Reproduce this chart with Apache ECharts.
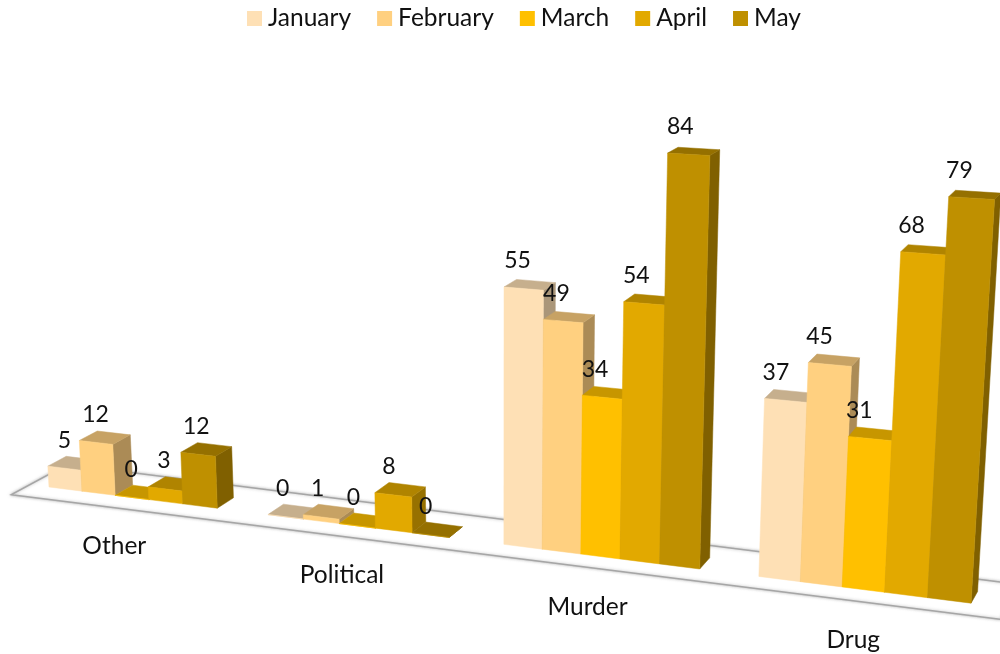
<!DOCTYPE html>
<html>
<head>
<meta charset="utf-8">
<style>html,body{margin:0;padding:0;background:#fff}#chart{width:1000px;height:654px}</style>
<script src="https://cdn.jsdelivr.net/npm/echarts@6/dist/echarts.min.js"></script>
</head>
<body>
<div id="chart"></div>
<script>
var categories = ['Other', 'Political', 'Murder', 'Drug'];
var months = ['January', 'February', 'March', 'April', 'May'];
var january = [5, 0, 55, 37];
var february = [12, 1, 49, 45];
var march = [0, 0, 34, 31];
var april = [3, 8, 54, 68];
var may = [12, 0, 84, 79];
var colors = ['#FEE0B5', '#FFD080', '#FFC000', '#E2A900', '#BF9000'];

var fontName = 'Lato';
var textColor = '#111';

// flat grid the axes work in, warped afterwards into the tilted 3d view
var gridLeft = 0, gridWidth = 880, gridTop = 120, gridHeight = 480, yMax = 100;
var band = gridWidth / categories.length;
var flatScale = gridHeight / yMax;
var barStep = 0.155;

// vanishing points and depth of a bar
var depthPoint = [1480, -300], depthStep = 0.0128;
var liftPoint = [500, 8700];

function project(px, py, depth) {
	var t = (px - gridLeft) / band;
	var bx = (49 + 209.3 * t) / (1 - 0.036 * t);
	var by = 487 + 0.126 * (bx - 49);
	var flat = gridTop + gridHeight - py;
	var h = flat * (4.12 + 0.000753 * bx + 0.00327 * flat / flatScale) / flatScale;
	var x = liftPoint[0] + (bx - liftPoint[0]) * (1 + h / (liftPoint[1] - by));
	var y = by - h;
	var f = depthStep * depth;
	return [x + (depthPoint[0] - x) * f, y + (depthPoint[1] - y) * f];
}

function shade(color, k) {
	var c = echarts.color.parse(color);
	return 'rgb(' + Math.round(c[0] * k) + ',' + Math.round(c[1] * k) + ',' + Math.round(c[2] * k) + ')';
}

function poly(points, fill) {
	return {
		type: 'polygon',
		shape: {points: points},
		style: {fill: fill, stroke: fill, lineWidth: 0.5}
	};
}

function renderBar(seriesIndex) {
	return function (params, api) {
		var value = api.value(1);
		var top = api.coord([api.value(0), value]);
		var base = api.coord([api.value(0), 0]);
		var left = top[0] - band / 2 + seriesIndex * barStep * band;
		var right = left + barStep * band;
		var color = colors[seriesIndex];

		var fl = project(left, base[1], 0), fr = project(right, base[1], 0);
		var tl = project(left, top[1], 0), tr = project(right, top[1], 0);
		var bl = project(left, top[1], 1), br = project(right, top[1], 1);
		var sb = project(right, base[1], 1);

		var cx = (tl[0] + tr[0]) / 2;
		var labelX = cx - (cx - 64) * 0.0135;
		var labelY = Math.min(tl[1], tr[1]) - 26;

		return {
			type: 'group',
			children: [
				poly([fr, tr, br, sb], shade(color, 0.67)),
				poly([tl, tr, br, bl], shade(color, 0.78)),
				poly([fl, fr, tr, tl], color),
				{
					type: 'text',
					z2: 10,
					style: {
						text: String(value), x: labelX, y: labelY,
						align: 'center', verticalAlign: 'middle',
						font: '23px ' + fontName, fill: textColor
					}
				}
			]
		};
	};
}

function renderFloor(params, api) {
	var y0 = api.coord([0, 0])[1];
	var x0 = api.coord([0, 0])[0] - band / 2 - 0.09 * band;
	var x1 = api.coord([categories.length - 1, 0])[0] + 0.4 * band;
	return {
		type: 'polygon',
		shape: {points: [project(x0, y0, -1), project(x1, y0, -1), project(x1, y0, 2), project(x0, y0, 2)]},
		style: {fill: '#fff', stroke: '#a6a6a6', lineWidth: 1.5, shadowBlur: 3, shadowColor: 'rgba(120,120,120,0.5)'}
	};
}

function renderCategory(params, api) {
	var c = api.value(0);
	var p = api.coord([c, 0]);
	var q = project(p[0] - band / 2 + 2.5 * 0.152 * band, p[1], 0);
	return {
		type: 'text',
		style: {
			text: categories[c], x: q[0] - 16 + (q[0] - 131) * 0.011, y: q[1] + 49 + (q[0] - 131) * 0.003,
			align: 'center', verticalAlign: 'middle',
			font: '24.5px ' + fontName, fill: textColor
		}
	};
}

var monthValues = [january, february, march, april, may];

var series = [
	{type: 'custom', name: 'floor', silent: true, clip: false, renderItem: renderFloor, data: [[0, 0]]},
	{
		type: 'custom', name: 'categories', silent: true, clip: false, renderItem: renderCategory,
		data: categories.map(function (c, i) { return [i, 0]; })
	}
];
months.forEach(function (month, s) {
	series.push({
		type: 'custom',
		name: month,
		clip: false,
		itemStyle: {color: colors[s]},
		renderItem: renderBar(s),
		encode: {x: 0, y: 1},
		data: monthValues[s].map(function (v, i) { return [i, v]; })
	});
});

var chart = echarts.init(document.getElementById('chart'));
chart.setOption({
	animation: false,
	color: colors,
	legend: {
		data: months,
		left: 247,
		top: 6,
		padding: 0,
		icon: 'rect',
		itemWidth: 15,
		itemHeight: 15,
		itemGap: 26,
		selectedMode: false,
		textStyle: {fontFamily: fontName, fontSize: 24.5, color: textColor, padding: [0, 0, 0, 1]}
	},
	grid: {left: gridLeft, top: gridTop, width: gridWidth, height: gridHeight},
	xAxis: {type: 'category', data: categories, show: false},
	yAxis: {type: 'value', min: 0, max: yMax, show: false},
	series: series
});
</script>
</body>
</html>
